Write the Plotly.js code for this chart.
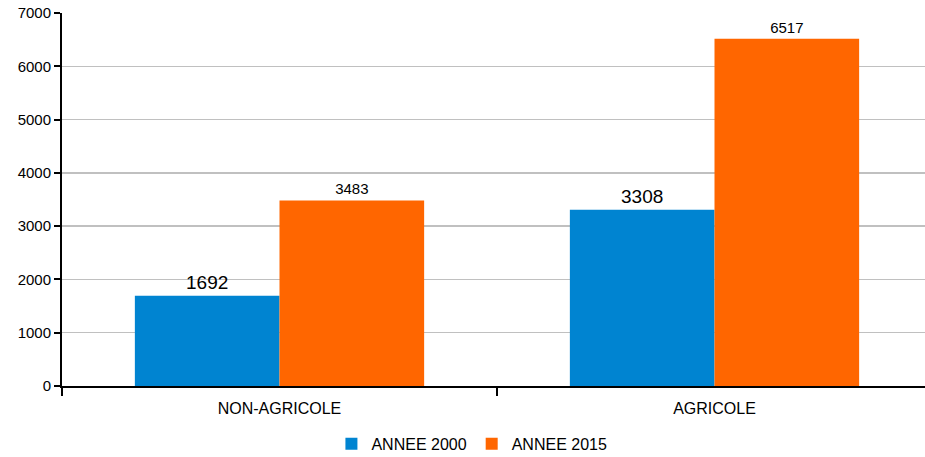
<!DOCTYPE html>
<html>
<head>
<meta charset="utf-8">
<script src="https://cdn.plot.ly/plotly-3.0.1.min.js"></script>
<style>html,body{margin:0;padding:0;background:#fff;}#chart{width:925px;height:457px;}</style>
</head>
<body>
<div id="chart"></div>
<script>
const categories = ["NON-AGRICOLE", "AGRICOLE"];
const seriesNames = ["ANNEE 2000", "ANNEE 2015"];
const values2000 = [1692, 3308];
const values2015 = [3483, 6517];
const yTicks = [0, 1000, 2000, 3000, 4000, 5000, 6000, 7000];

const font = "Liberation Sans, Arial, sans-serif";
const traces = [
  {
    type: "bar", name: seriesNames[0], x: categories, y: values2000,
    marker: {color: "#0084d1"},
    text: values2000.map(String), textposition: "outside", cliponaxis: false,
    textfont: {family: font, size: 19, color: "#000"}
  },
  {
    type: "bar", name: seriesNames[1], x: categories, y: values2015,
    marker: {color: "#ff6600"},
    text: values2015.map(String), textposition: "outside", cliponaxis: false,
    textfont: {family: font, size: 15, color: "#000"}
  }
];
const layout = {
  width: 925, height: 457,
  margin: {l: 62, r: 0, t: 13, b: 71, autoexpand: false},
  paper_bgcolor: "#fff", plot_bgcolor: "#fff",
  font: {family: font, size: 15, color: "#000"},
  barmode: "group", bargap: 0.335, bargroupgap: 0,
  showlegend: true,
  legend: {orientation: "h", x: 0.475, xanchor: "center", y: -0.155, yanchor: "middle",
           font: {family: font, size: 16, color: "#000"}, itemwidth: 30},
  xaxis: {
    type: "category", range: [-0.5, -0.5 + 863/435], automargin: false,
    showline: true, linecolor: "#000", linewidth: 2,
    ticks: "outside", tickson: "boundaries", ticklen: 8, tickwidth: 2, tickcolor: "#000",
    ticklabelstandoff: 7,
    showgrid: false, tickfont: {family: font, size: 16, color: "#000"}, zeroline: false
  },
  yaxis: {
    range: [0, 7000], tickvals: yTicks, automargin: false,
    showline: true, linecolor: "#000", linewidth: 2,
    ticks: "outside", ticklen: 6, tickwidth: 2, tickcolor: "#000",
    showgrid: true, gridcolor: "#c0c0c0", gridwidth: 1.5, zeroline: false,
    tickfont: {family: font, size: 15, color: "#000"}
  }
};
Plotly.newPlot("chart", traces, layout, {displayModeBar: false, staticPlot: true});
</script>
</body>
</html>
